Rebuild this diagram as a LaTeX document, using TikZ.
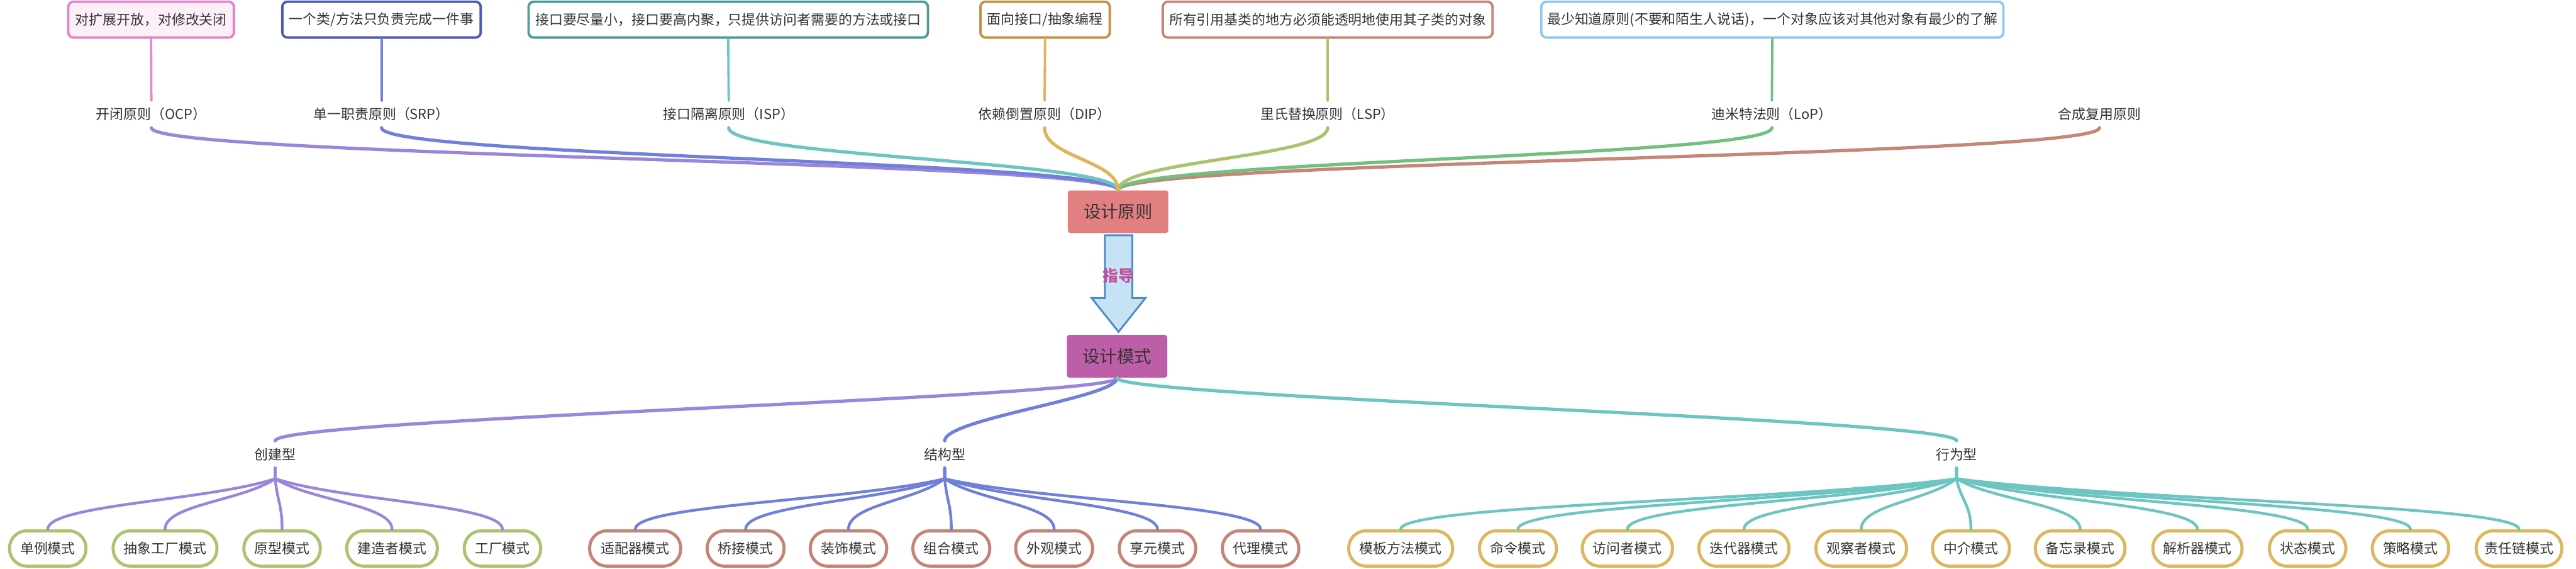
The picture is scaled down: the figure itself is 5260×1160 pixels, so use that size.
\documentclass[tikz,border=0pt]{standalone}
\usepackage{fontspec}
\setmainfont{Noto Sans CJK SC}
\usetikzlibrary{calc}
\definecolor{txt}{HTML}{333333}
\definecolor{cOCP}{HTML}{9B85DB}
\definecolor{cSRP}{HTML}{6F80DA}
\definecolor{cISP}{HTML}{6CC5C1}
\definecolor{cDIP}{HTML}{E0B55A}
\definecolor{cLSP}{HTML}{A8C46D}
\definecolor{cLOP}{HTML}{72C07F}
\definecolor{cHC}{HTML}{C38677}
\definecolor{lOCP}{HTML}{E48BD0}
\definecolor{lSRP}{HTML}{7282D8}
\definecolor{bOCP}{HTML}{E285CB}
\definecolor{fOCP}{HTML}{FCEFF8}
\definecolor{bSRP}{HTML}{4C5AAF}
\definecolor{bISP}{HTML}{4E9B99}
\definecolor{bDIP}{HTML}{C19347}
\definecolor{bLSP}{HTML}{C48577}
\definecolor{bLOP}{HTML}{92C7EC}
\definecolor{rootA}{HTML}{E27F80}
\definecolor{rootB}{HTML}{BC5EA8}
\definecolor{arrFill}{HTML}{C6E3F6}
\definecolor{arrDraw}{HTML}{4F8DC9}
\definecolor{zhidao}{HTML}{C24F9D}
\definecolor{leafCre}{HTML}{AAC56E}
\definecolor{leafStr}{HTML}{C48577}
\definecolor{leafBeh}{HTML}{DDB65E}
\tikzset{
  detail/.style={draw=#1, line width=1.4pt, rounded corners=3pt, fill=white,
    minimum height=0.73cm, inner sep=0pt},
  lbl/.style={inner sep=0pt, minimum height=0.54cm},
  rootbox/.style={fill=#1, rounded corners=1.5pt, minimum width=2.05cm,
    minimum height=0.87cm, inner sep=0pt, font=\fontsize{10pt}{12pt}\selectfont},
  leaf/.style={draw=#1, line width=1.8pt, fill=white, rounded corners=10pt,
    minimum height=0.72cm, inner sep=0pt},
  edgeline/.style={draw=#1, line width=1.9pt, line cap=round},
  conn/.style={draw=#1, line width=1.4pt, line cap=round},
  fanline/.style={draw=#1, line width=1.6pt, line cap=round},
  bigarrow/.style={fill=arrFill, draw=arrDraw, line width=1.1pt, line join=miter}
}
\newcommand\fanedge[4]{\draw[fanline=#1] (#2.south) -- ++(0,22) .. controls +(#4,45) and +(0,-50) .. (#3.north);}
\begin{document}
\begin{tikzpicture}[x=0.01cm,y=-0.01cm, every node/.style={text=txt},
  font=\fontsize{8pt}{10pt}\selectfont]
\useasboundingbox (0,0) rectangle (5260,1160);

% top detail boxes
\node[detail=bOCP, fill=fOCP, minimum width=3.38cm] (b1) at (308.5,40) {对扩展开放，对修改关闭};
\node[detail=bSRP, minimum width=4.05cm] (b2) at (779,40) {一个类/方法只负责完成一件事};
\node[detail=bISP, minimum width=8.15cm] (b3) at (1487,40) {接口要尽量小，接口要高内聚，只提供访问者需要的方法或接口};
\node[detail=bDIP, minimum width=2.64cm] (b4) at (2134,40) {面向接口/抽象编程};
\node[detail=bLSP, minimum width=6.73cm] (b5) at (2711,40) {所有引用基类的地方必须能透明地使用其子类的对象};
\node[detail=bLOP, minimum width=9.43cm] (b6) at (3619,40) {最少知道原则(不要和陌生人说话)，一个对象应该对其他对象有最少的了解};

% principle labels
\node[lbl] (ocp) at (309,233) {开闭原则（OCP）};
\node[lbl] (srp) at (779,233) {单一职责原则（SRP）};
\node[lbl] (isp) at (1488,233) {接口隔离原则（ISP）};
\node[lbl] (dip) at (2133,233) {依赖倒置原则（DIP）};
\node[lbl] (lsp) at (2711,233) {里氏替换原则（LSP）};
\node[lbl] (lop) at (3618,233) {迪米特法则（LoP）};
\node[lbl] (hc) at (4287,233) {合成复用原则};

% root nodes
\node[rootbox=rootA] (yz) at (2283,432) {设计原则};
\node[rootbox=rootB] (ms) at (2281,727) {设计模式};

% box -> label lines
\draw[conn=lOCP] (b1.south) -- (ocp.north);
\draw[conn=lSRP] (b2.south) -- (srp.north);
\draw[conn=cISP] (b3.south) -- (isp.north);
\draw[conn=cDIP] (b4.south) -- (dip.north);
\draw[conn=cLSP] (b5.south) -- (lsp.north);
\draw[conn=cLOP] (b6.south) -- (lop.north);

% principle edges to root
\draw[edgeline=cOCP] (ocp.south) .. controls +(0,60) and +(0,-60) .. (yz.north);
\draw[edgeline=cSRP] (srp.south) .. controls +(0,60) and +(0,-60) .. (yz.north);
\draw[edgeline=cISP] (isp.south) .. controls +(0,60) and +(0,-60) .. (yz.north);
\draw[edgeline=cHC] (hc.south) .. controls +(0,60) and +(0,-60) .. (yz.north);
\draw[edgeline=cLOP] (lop.south) .. controls +(0,60) and +(0,-60) .. (yz.north);
\draw[edgeline=cLSP] (lsp.south) .. controls +(0,60) and +(0,-60) .. (yz.north);
\draw[edgeline=cDIP] (dip.south) .. controls +(0,60) and +(0,-60) .. (yz.north);

% guiding arrow
\draw[bigarrow] (2256,480) -- (2312,480) -- (2312,608) -- (2339,608) -- (2284,677)
  -- (2229,608) -- (2256,608) -- cycle;
\node[text=zhidao, font=\fontsize{9pt}{11pt}\selectfont\bfseries, inner sep=0pt] (zd) at (2284,562) {指导};

% categories
\node[lbl] (cjx) at (562,927) {创建型};
\node[lbl] (jgx) at (1929,927) {结构型};
\node[lbl] (xwx) at (3995,927) {行为型};

\draw[edgeline=cOCP] (ms.south) .. controls +(0,40) and +(0,-45) .. (cjx.north);
\draw[edgeline=cSRP] (ms.south) .. controls +(0,40) and +(0,-45) .. (jgx.north);
\draw[edgeline=cISP] (ms.south) .. controls +(0,40) and +(0,-45) .. (xwx.north);

% leaves: creational
\node[leaf=leafCre, minimum width=1.56cm] (c1) at (97.5,1119) {单例模式};
\node[leaf=leafCre, minimum width=2.12cm] (c2) at (337,1119) {抽象工厂模式};
\node[leaf=leafCre, minimum width=1.56cm] (c3) at (576,1119) {原型模式};
\node[leaf=leafCre, minimum width=1.85cm] (c4) at (800.5,1119) {建造者模式};
\node[leaf=leafCre, minimum width=1.56cm] (c5) at (1026,1119) {工厂模式};
% structural
\node[leaf=leafStr, minimum width=1.86cm] (s1) at (1297,1119) {适配器模式};
\node[leaf=leafStr, minimum width=1.57cm] (s2) at (1522.5,1119) {桥接模式};
\node[leaf=leafStr, minimum width=1.56cm] (s3) at (1732.5,1119) {装饰模式};
\node[leaf=leafStr, minimum width=1.57cm] (s4) at (1942.5,1119) {组合模式};
\node[leaf=leafStr, minimum width=1.57cm] (s5) at (2152.5,1119) {外观模式};
\node[leaf=leafStr, minimum width=1.56cm] (s6) at (2363.5,1119) {享元模式};
\node[leaf=leafStr, minimum width=1.56cm] (s7) at (2574,1119) {代理模式};
% behavioral
\node[leaf=leafBeh, minimum width=2.12cm] (h1) at (2860,1119) {模板方法模式};
\node[leaf=leafBeh, minimum width=1.57cm] (h2) at (3099.5,1119) {命令模式};
\node[leaf=leafBeh, minimum width=1.84cm] (h3) at (3323,1119) {访问者模式};
\node[leaf=leafBeh, minimum width=1.84cm] (h4) at (3561,1119) {迭代器模式};
\node[leaf=leafBeh, minimum width=1.85cm] (h5) at (3800.5,1119) {观察者模式};
\node[leaf=leafBeh, minimum width=1.57cm] (h6) at (4024.5,1119) {中介模式};
\node[leaf=leafBeh, minimum width=1.83cm] (h7) at (4247.5,1119) {备忘录模式};
\node[leaf=leafBeh, minimum width=1.82cm] (h8) at (4487,1119) {解析器模式};
\node[leaf=leafBeh, minimum width=1.56cm] (h9) at (4712,1119) {状态模式};
\node[leaf=leafBeh, minimum width=1.56cm] (h10) at (4922,1119) {策略模式};
\node[leaf=leafBeh, minimum width=1.75cm] (h11) at (5143.5,1119) {责任链模式};

% fan edges
\fanedge{cOCP}{cjx}{c1}{-139}
\fanedge{cOCP}{cjx}{c2}{-67}
\fanedge{cOCP}{cjx}{c3}{4}
\fanedge{cOCP}{cjx}{c4}{72}
\fanedge{cOCP}{cjx}{c5}{139}

\fanedge{cSRP}{jgx}{s1}{-190}
\fanedge{cSRP}{jgx}{s2}{-122}
\fanedge{cSRP}{jgx}{s3}{-59}
\fanedge{cSRP}{jgx}{s4}{4}
\fanedge{cSRP}{jgx}{s5}{67}
\fanedge{cSRP}{jgx}{s6}{130}
\fanedge{cSRP}{jgx}{s7}{193}

\fanedge{cISP}{xwx}{h1}{-340}
\fanedge{cISP}{xwx}{h2}{-269}
\fanedge{cISP}{xwx}{h3}{-202}
\fanedge{cISP}{xwx}{h4}{-130}
\fanedge{cISP}{xwx}{h5}{-58}
\fanedge{cISP}{xwx}{h6}{9}
\fanedge{cISP}{xwx}{h7}{76}
\fanedge{cISP}{xwx}{h8}{148}
\fanedge{cISP}{xwx}{h9}{215}
\fanedge{cISP}{xwx}{h10}{278}
\fanedge{cISP}{xwx}{h11}{345}
\end{tikzpicture}
\end{document}
